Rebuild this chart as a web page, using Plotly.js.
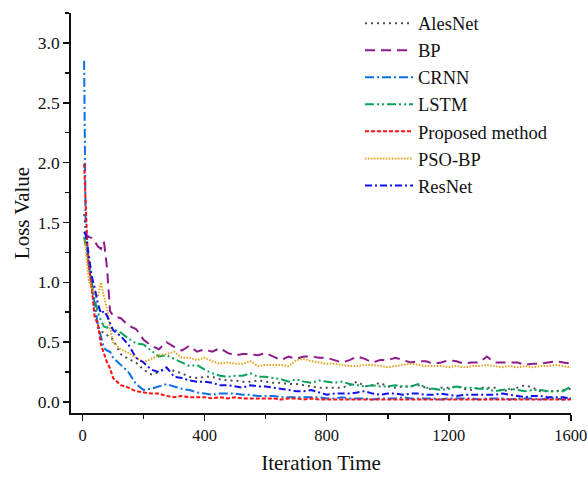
<!DOCTYPE html>
<html>
<head>
<meta charset="utf-8">
<script src="https://cdn.plot.ly/plotly-3.0.1.min.js"></script>
<style>html,body{margin:0;padding:0;background:#fff;}#chart{width:588px;height:477px;}</style>
</head>
<body>
<div id="chart"></div>
<script>
const iterations = [5,10,15,20,30,40,50,60,70,80,90,100,
  125,150,175,200,225,250,275,300,325,350,375,400,425,450,475,500,525,550,575,600,
  625,650,675,700,725,750,775,800,825,850,875,900,925,950,975,1000,1025,1050,1075,1100,
  1125,1150,1175,1200,1225,1250,1275,1300,1325,1350,1375,1400,1425,1450,1475,1500,1525,1550,1575,1600];

const alesNet = [1.57,1.45,1.30,1.15,0.95,0.75,0.62,0.59,0.58,0.56,0.54,0.52,
  0.40,0.36,0.33,0.27,0.23,0.25,0.28,0.26,0.24,0.21,0.20,0.21,0.21,0.19,0.18,0.18,0.17,0.17,0.18,0.17,
  0.16,0.16,0.15,0.15,0.14,0.13,0.12,0.12,0.12,0.12,0.14,0.17,0.13,0.14,0.16,0.13,0.12,0.13,0.13,0.14,
  0.12,0.10,0.12,0.12,0.13,0.11,0.10,0.12,0.12,0.12,0.09,0.10,0.12,0.14,0.12,0.09,0.09,0.09,0.10,0.11];

const bp = [1.42,1.40,1.39,1.38,1.37,1.34,1.30,1.28,1.34,1.12,0.76,0.72,
  0.70,0.64,0.61,0.52,0.47,0.44,0.50,0.46,0.43,0.47,0.42,0.44,0.42,0.45,0.41,0.39,0.40,0.40,0.39,0.41,
  0.38,0.35,0.38,0.36,0.38,0.38,0.37,0.37,0.35,0.33,0.35,0.38,0.36,0.33,0.35,0.35,0.37,0.35,0.33,0.34,
  0.34,0.32,0.33,0.35,0.34,0.32,0.33,0.33,0.38,0.33,0.33,0.33,0.33,0.31,0.32,0.32,0.33,0.34,0.33,0.32];

const crnn = [2.85,1.45,1.30,1.15,0.98,0.80,0.65,0.55,0.45,0.43,0.42,0.37,
  0.31,0.25,0.15,0.10,0.11,0.13,0.15,0.13,0.11,0.10,0.08,0.07,0.06,0.07,0.07,0.07,0.06,0.06,0.05,0.05,
  0.05,0.04,0.04,0.04,0.04,0.04,0.04,0.03,0.03,0.04,0.03,0.03,0.03,0.02,0.03,0.03,0.03,0.04,0.03,0.03,
  0.03,0.03,0.02,0.03,0.03,0.03,0.03,0.02,0.03,0.03,0.03,0.02,0.03,0.03,0.03,0.02,0.03,0.03,0.02,0.03];

const lstm = [1.38,1.30,1.25,1.15,1.00,0.85,0.75,0.68,0.63,0.62,0.63,0.61,
  0.58,0.53,0.49,0.48,0.43,0.38,0.39,0.36,0.33,0.30,0.31,0.27,0.24,0.22,0.21,0.22,0.22,0.24,0.21,0.21,
  0.20,0.19,0.17,0.19,0.17,0.16,0.18,0.17,0.16,0.17,0.15,0.14,0.13,0.14,0.13,0.13,0.14,0.13,0.13,0.15,
  0.12,0.11,0.10,0.11,0.13,0.12,0.12,0.11,0.11,0.09,0.10,0.11,0.10,0.09,0.10,0.10,0.09,0.09,0.09,0.13];

const proposed = [1.99,1.62,1.35,1.15,0.95,0.70,0.66,0.48,0.40,0.33,0.28,0.20,
  0.14,0.12,0.09,0.08,0.07,0.07,0.05,0.04,0.05,0.04,0.04,0.04,0.03,0.04,0.03,0.04,0.03,0.03,0.03,0.03,
  0.03,0.02,0.03,0.03,0.02,0.03,0.02,0.02,0.02,0.02,0.02,0.02,0.02,0.02,0.02,0.02,0.02,0.02,0.02,0.02,
  0.02,0.02,0.02,0.02,0.02,0.02,0.02,0.02,0.02,0.02,0.02,0.02,0.02,0.02,0.02,0.02,0.02,0.02,0.02,0.02];

const psoBp = [1.35,1.30,1.15,1.02,0.95,0.90,0.88,1.00,0.88,0.78,0.62,0.50,
  0.44,0.41,0.37,0.33,0.36,0.39,0.40,0.42,0.37,0.37,0.35,0.37,0.34,0.32,0.33,0.32,0.32,0.34,0.30,0.31,
  0.31,0.31,0.30,0.35,0.36,0.34,0.33,0.32,0.32,0.31,0.30,0.30,0.31,0.31,0.30,0.29,0.30,0.31,0.32,0.31,
  0.30,0.30,0.30,0.29,0.30,0.29,0.30,0.30,0.31,0.30,0.29,0.30,0.29,0.30,0.29,0.30,0.30,0.31,0.30,0.29];

const resNet = [1.42,1.40,1.32,1.22,1.05,0.95,0.82,0.74,0.76,0.72,0.66,0.60,
  0.55,0.48,0.37,0.33,0.27,0.25,0.29,0.21,0.20,0.18,0.17,0.17,0.16,0.14,0.14,0.13,0.12,0.14,0.13,0.13,
  0.12,0.11,0.10,0.09,0.09,0.10,0.08,0.06,0.07,0.07,0.07,0.08,0.09,0.07,0.06,0.07,0.07,0.06,0.07,0.07,
  0.06,0.06,0.07,0.06,0.05,0.06,0.06,0.06,0.06,0.06,0.07,0.06,0.05,0.04,0.05,0.05,0.04,0.04,0.04,0.03];

const seriesNames = ["AlesNet","BP","CRNN","LSTM","Proposed method","PSO-BP","ResNet"];
const seriesData = [alesNet, bp, crnn, lstm, proposed, psoBp, resNet];
const colors = ["#4d4d4d","#8e1b8c","#0b6fe6","#0aa35c","#ff1010","#e5a11a","#1010f0"];
const dashes = ["2px,4px","10px,6px","9px,3px,2px,3px","9px,3px,2px,3px,2px,3px","4px,2px","1.5px,1.5px","7px,3px,2px,3px"];

const traces = seriesNames.map((name, i) => ({
  x: iterations,
  y: seriesData[i],
  name: name,
  legendgroup: 'g' + i,
  type: 'scatter',
  mode: 'lines',
  line: {color: colors[i], width: 2, dash: dashes[i]}
}));

const font = {family: '"Liberation Serif", "Times New Roman", serif', color: '#111'};

const layout = {
  width: 588, height: 477,
  margin: {l: 71, r: 17, t: 13, b: 64, autoexpand: false},
  paper_bgcolor: '#fff', plot_bgcolor: '#fff',
  font: Object.assign({size: 17}, font),
  showlegend: true,
  legend: {
    x: 0.578, y: 1.021, xanchor: 'left', yanchor: 'top',
    bgcolor: 'rgba(0,0,0,0)', borderwidth: 0,
    font: Object.assign({size: 18.5}, font),
    tracegroupgap: 0, itemwidth: 48
  },
  xaxis: {
    range: [-38, 1600.5], tickvals: [0,400,800,1200,1600],
    ticks: 'outside', ticklen: 6, tickwidth: 1.5, tickcolor: '#111',
    ticklabeloverflow: 'allow',
    showline: true, linecolor: '#111', linewidth: 1.8, showgrid: false, zeroline: false,
    minor: {tickvals: [200,600,1000,1400], ticks: 'outside', ticklen: 4, tickwidth: 1.5, tickcolor: '#111', showgrid: false},
    tickfont: Object.assign({size: 16.5}, font),
    title: {text: 'Iteration Time', font: Object.assign({size: 21}, font), standoff: 12}
  },
  yaxis: {
    range: [-0.092, 3.25], tickvals: [0,0.5,1.0,1.5,2.0,2.5,3.0], ticktext: ['0.0','0.5','1.0','1.5','2.0','2.5','3.0'],
    ticks: 'outside', ticklen: 6, tickwidth: 1.5, tickcolor: '#111',
    showline: true, linecolor: '#111', linewidth: 1.8, showgrid: false, zeroline: false,
    minor: {tickvals: [0.25,0.75,1.25,1.75,2.25,2.75,3.25], ticks: 'outside', ticklen: 4, tickwidth: 1.5, tickcolor: '#111', showgrid: false},
    tickfont: Object.assign({size: 17.5}, font),
    title: {text: 'Loss Value', font: Object.assign({size: 21}, font), standoff: 2}
  }
};

Plotly.newPlot('chart', traces, layout, {displayModeBar: false, staticPlot: true});
</script>
</body>
</html>
